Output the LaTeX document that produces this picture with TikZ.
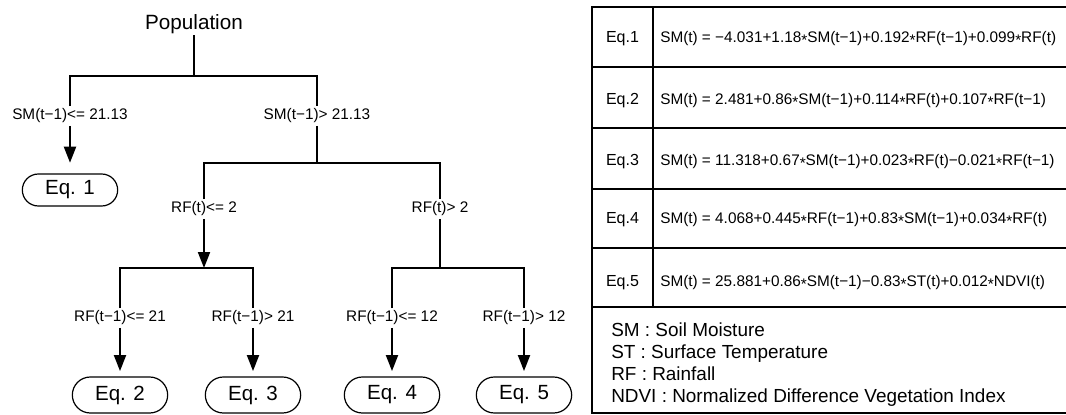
\documentclass[tikz,border=0pt]{standalone}
\usepackage{fontspec}
\setmainfont{Liberation Sans}
\usetikzlibrary{arrows.meta,shapes.misc}
\newcommand{\mul}{\raisebox{-0.4ex}{*}}
\begin{document}
\begin{tikzpicture}[x=0.75pt,y=-0.75pt,
  edge/.style={line width=1.5pt},
  arr/.style={edge,-{Triangle[length=12pt,width=9pt]}},
  cond/.style={font=\fontsize{11.5}{13}\selectfont, inner sep=0pt, minimum height=14.5pt, fill=white},
  eqbox/.style={draw, line width=0.9pt, rounded rectangle, inner sep=0pt,
    minimum width=71.5pt, font=\fontsize{15.4}{18}\selectfont},
  tblout/.style={line width=1.3pt},
  tblin/.style={line width=0.9pt},
  eqlab/.style={anchor=base, inner sep=0pt, font=\fontsize{12}{14}\selectfont},
  formula/.style={anchor=base west, inner sep=0pt, font=\fontsize{11.5}{13}\selectfont},
  legend/.style={anchor=base west, inner sep=0pt, font=\fontsize{14.2}{16}\selectfont}]
\useasboundingbox (0,0) rectangle (1066,414);
% ---------- tree ----------
\node[font=\fontsize{15.5}{18}\selectfont, inner sep=1pt] (pop) at (194,24) {Population};
\coordinate (j0) at (194,76);
\coordinate (jL) at (70,76);
\coordinate (jR) at (317,76);
\node[cond] (c1) at (70,116) {SM(t−1)<= 21.13};
\node[cond] (c2) at (317,116) {SM(t−1)> 21.13};
\node[eqbox, minimum height=24pt] (e1) at (70,190) {Eq. 1};
\draw[edge] (pop.south) -- (j0);
\draw[edge] (c1.north) -- (jL) -- (jR) -- (c2.north);
\draw[arr, shorten >=8pt] (c1.south) -- (e1.north);
% level 2
\coordinate (k0) at (317,163);
\coordinate (kL) at (204,163);
\coordinate (kR) at (440,163);
\draw[edge] (c2.south) -- (k0);
\node[cond] (c3) at (204,209) {RF(t)<= 2};
\node[cond] (c4) at (440,209) {RF(t)> 2};
\draw[edge] (c3.north) -- (kL) -- (kR) -- (c4.north);
% level 3
\coordinate (m1) at (204,268);
\coordinate (mL) at (120,268);
\coordinate (mR) at (253,268);
\coordinate (n1) at (440,268);
\coordinate (nL) at (392,268);
\coordinate (nR) at (524,268);
\draw[arr] (c3.south) -- (m1);
\draw[edge] (c4.south) -- (n1);
\node[cond] (c5) at (120,318) {RF(t−1)<= 21};
\node[cond] (c6) at (253,318) {RF(t−1)> 21};
\node[cond] (c7) at (392,318) {RF(t−1)<= 12};
\node[cond] (c8) at (524,318) {RF(t−1)> 12};
\draw[edge] (c5.north) -- (mL) -- (mR) -- (c6.north);
\draw[edge] (c7.north) -- (nL) -- (nR) -- (c8.north);
\node[eqbox, minimum height=27pt] (e2) at (120,395) {Eq. 2};
\node[eqbox, minimum height=27pt] (e3) at (253,395) {Eq. 3};
\node[eqbox, minimum height=27pt] (e4) at (392,395) {Eq. 4};
\node[eqbox, minimum height=27pt] (e5) at (524,395) {Eq. 5};
\foreach \a/\b in {c5/e2,c6/e3,c7/e4,c8/e5}
  \draw[arr, shorten >=4pt] (\a.south) -- (\b.north);
% ---------- table ----------
\begin{scope}
\clip (0,0) rectangle (1066,414);
\foreach \yy in {67,128,189,248,307}
  \draw[tblin] (592,\yy) -- (1070,\yy);
\draw[tblin] (653,7) -- (653,307);
\draw[tblout] (1070,7) -- (592,7) -- (592,413) -- (1070,413);
\node[eqlab] (q1) at (622.5,42.5) {Eq.1};
\node[eqlab] (q2) at (622.5,104) {Eq.2};
\node[eqlab] (q3) at (622.5,165) {Eq.3};
\node[eqlab] (q4) at (622.5,223) {Eq.4};
\node[eqlab] (q5) at (622.5,286.5) {Eq.5};
\node[formula] (f1) at (660,42.5) {SM(t) = −4.031+1.18\mul SM(t−1)+0.192\mul RF(t−1)+0.099\mul RF(t)};
\node[formula] (f2) at (660,104) {SM(t) = 2.481+0.86\mul SM(t−1)+0.114\mul RF(t)+0.107\mul RF(t−1)};
\node[formula] (f3) at (660,165) {SM(t) = 11.318+0.67\mul SM(t−1)+0.023\mul RF(t)−0.021\mul RF(t−1)};
\node[formula] (f4) at (660,223) {SM(t) = 4.068+0.445\mul RF(t−1)+0.83\mul SM(t−1)+0.034\mul RF(t)};
\node[formula] (f5) at (660,286.5) {SM(t) = 25.881+0.86\mul SM(t−1)−0.83\mul ST(t)+0.012\mul NDVI(t)};
\node[legend] (l1) at (611,336) {SM : Soil Moisture};
\node[legend] (l2) at (611,358) {ST : Surface Temperature};
\node[legend] (l3) at (611,380) {RF : Rainfall};
\node[legend] (l4) at (611,402) {NDVI : Normalized Difference Vegetation Index};
\end{scope}
\end{tikzpicture}
\end{document}
